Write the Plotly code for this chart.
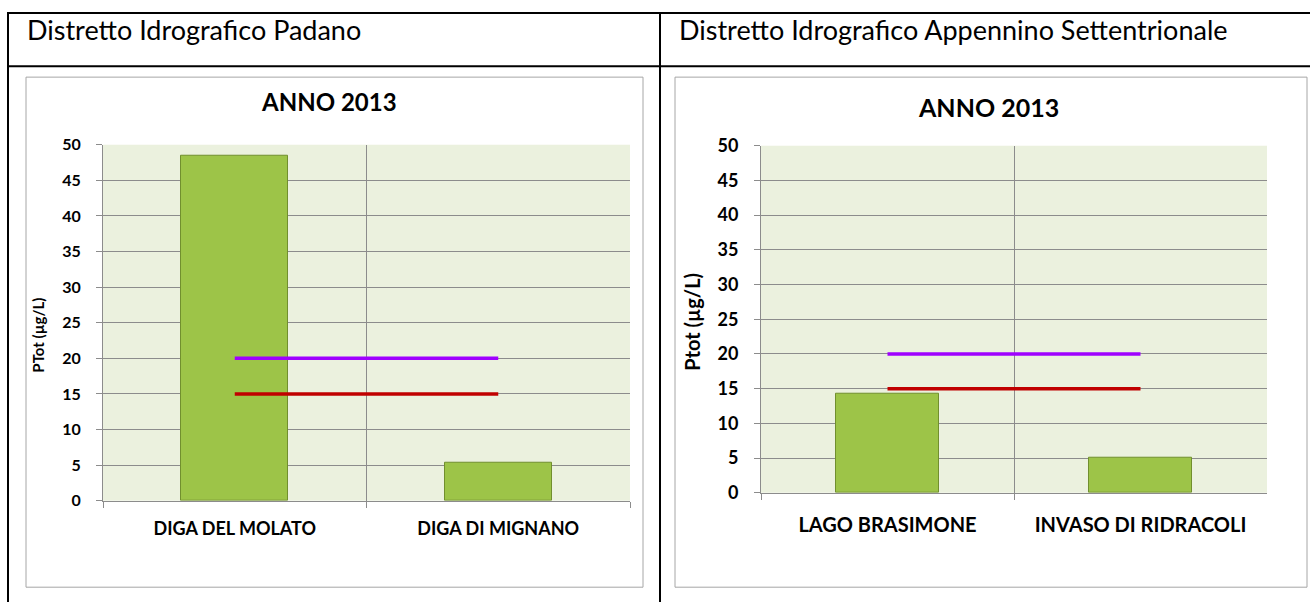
import plotly.graph_objects as go

# data
districts = ["Distretto Idrografico Padano", "Distretto Idrografico Appennino Settentrionale"]
chart_title = "ANNO 2013"
padano_sites = ["DIGA DEL MOLATO", "DIGA DI MIGNANO"]
padano_ptot = [48.5, 5.3]
appennino_sites = ["LAGO BRASIMONE", "INVASO DI RIDRACOLI"]
appennino_ptot = [14.3, 5.1]
limit_high = 20   # purple line
limit_low = 15    # red line
y_title_left = "PTot (µg/L)"
y_title_right = "Ptot (µg/L)"
y_tickvals = [0, 5, 10, 15, 20, 25, 30, 35, 40, 45, 50]

W, H = 1310, 602
FONT = "Lato"
GRID = "#8C8C8C"


def px(x):
    return x / W


def py(y):
    # the snapshot squeezes the page a little vertically, undo that
    y = max((y - 10.5) / 0.969, 1.0)
    return 1 - y / H


fig = go.Figure()

panels = [
    # sites, values, y title, axis suffix, plot box (x0,x1,ytop,ybot), frame box,
    # title (x,y,size), ytitle (x,y,size), tick size, x label size, x label standoff
    (padano_sites, padano_ptot, y_title_left, "", (103, 630, 144, 502), (26, 643, 76, 589),
     (329, 101, 24), (38, 336, 15), 16, 18, 12),
    (appennino_sites, appennino_ptot, y_title_right, "2", (761, 1267, 145, 494), (675, 1307, 76, 589),
     (988, 106, 25), (692, 322, 20), 18, 20, 14),
]

for sites, vals, ytitle, sfx, box, frame, tpos, ytpos, tsize, xsize, xstand in panels:
    xa = "x" + sfx
    ya = "y" + sfx
    fig.add_trace(go.Bar(
        x=sites, y=vals, width=0.405,
        marker=dict(color="#9DC448", line=dict(color="#718F2E", width=1)),
        xaxis=xa, yaxis=ya, showlegend=False,
    ))
    fig.add_trace(go.Scatter(
        x=sites, y=[limit_high] * len(sites), mode="lines",
        line=dict(color="#9F00FF", width=3.5),
        xaxis=xa, yaxis=ya, showlegend=False,
    ))
    fig.add_trace(go.Scatter(
        x=sites, y=[limit_low] * len(sites), mode="lines",
        line=dict(color="#C00000", width=3.5),
        xaxis=xa, yaxis=ya, showlegend=False,
    ))

    x0, x1, yt, yb = box
    axis_common = dict(showline=True, linecolor=GRID, linewidth=1,
                       showgrid=True, gridcolor=GRID, gridwidth=1,
                       ticks="outside", ticklen=6, tickcolor=GRID,
                       fixedrange=True)
    fig.update_layout(**{
        "xaxis" + sfx: dict(domain=[px(x0), px(x1)], anchor=ya, type="category",
                            range=[-0.5, len(sites) - 0.5], tickson="boundaries",
                            tickfont=dict(family=FONT, size=xsize, color="black", weight="bold"),
                            ticklabelstandoff=xstand, **axis_common),
        "yaxis" + sfx: dict(domain=[py(yb), py(yt)], anchor=xa, range=[0, 50],
                            tickvals=y_tickvals, zeroline=False,
                            tickfont=dict(family=FONT, size=tsize, color="black", weight="bold"),
                            ticklabelstandoff=12, **axis_common),
    })

    fx0, fx1, fyt, fyb = frame
    fig.add_shape(type="rect", xref="paper", yref="paper",
                  x0=px(fx0), x1=px(fx1), y0=py(fyb), y1=py(fyt),
                  line=dict(color="#A6A6A6", width=1), layer="below")
    fig.add_annotation(text="<b>%s</b>" % chart_title, xref="paper", yref="paper",
                       x=px(tpos[0]), y=py(tpos[1]), showarrow=False,
                       xanchor="center", yanchor="middle",
                       font=dict(family=FONT, size=tpos[2], color="black"))
    fig.add_annotation(text="<b>%s</b>" % ytitle, xref="paper", yref="paper",
                       x=px(ytpos[0]), y=py(ytpos[1]),
                       showarrow=False, textangle=-90,
                       xanchor="center", yanchor="middle",
                       font=dict(family=FONT, size=ytpos[2], color="black"))

# table around the two charts
for (ax0, ay0, ax1, ay1) in [(7, 10, W, 10), (7, 65, W, 65), (8, 10, 8, H + 20), (660, 10, 660, H + 20)]:
    fig.add_shape(type="line", xref="paper", yref="paper",
                  x0=px(ax0), y0=py(ay0), x1=px(ax1), y1=py(ay1),
                  line=dict(color="black", width=2))

for name, hx in zip(districts, [25, 677]):
    fig.add_annotation(text=name, xref="paper", yref="paper",
                       x=px(hx), y=py(28), showarrow=False,
                       xanchor="left", yanchor="middle",
                       font=dict(family=FONT, size=27, color="black"))

fig.update_layout(
    width=W, height=H,
    margin=dict(l=0, r=0, t=0, b=0),
    paper_bgcolor="white",
    plot_bgcolor="#EBF1DE",
    bargap=0,
    showlegend=False,
)

# pin the figure to the top-left corner of the page
pin = ("document.body.style.margin='0';"
       "document.documentElement.style.overflow='hidden';"
       "var d=document.getElementById('{plot_id}');"
       "d.style.position='fixed';d.style.top='0';d.style.left='0';")
fig.write_html("out.html", config={"displayModeBar": False}, post_script=pin)
